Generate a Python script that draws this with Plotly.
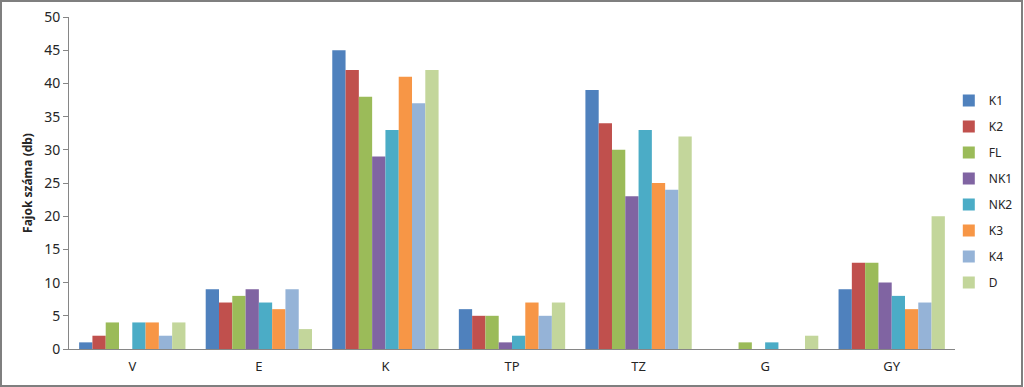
import plotly.graph_objects as go

categories = ["V", "E", "K", "TP", "TZ", "G", "GY"]
series_names = ["K1", "K2", "FL", "NK1", "NK2", "K3", "K4", "D"]
K1 = [1, 9, 45, 6, 39, 0, 9]
K2 = [2, 7, 42, 5, 34, 0, 13]
FL = [4, 8, 38, 5, 30, 1, 13]
NK1 = [0, 9, 29, 1, 23, 0, 10]
NK2 = [4, 7, 33, 2, 33, 1, 8]
K3 = [4, 6, 41, 7, 25, 0, 6]
K4 = [2, 9, 37, 5, 24, 0, 7]
D = [4, 3, 42, 7, 32, 2, 20]
series_values = [K1, K2, FL, NK1, NK2, K3, K4, D]
colors = ["#4F81BD", "#C0504D", "#9BBB59", "#8064A2", "#4BACC6", "#F79646", "#95B3D7", "#C3D69B"]
y_ticks = [0, 5, 10, 15, 20, 25, 30, 35, 40, 45, 50]

fig = go.Figure()
for name, vals, col in zip(series_names, series_values, colors):
    fig.add_trace(go.Bar(name=name, x=categories, y=vals, marker=dict(color=col, line=dict(width=0)),
                         legendgroup=name))

fig.update_layout(
    width=1024, height=387,
    margin=dict(l=69, r=69, t=17, b=38, autoexpand=False),
    paper_bgcolor="white", plot_bgcolor="white",
    barmode="group", bargap=0.16, bargroupgap=0,
    font=dict(family="Noto Sans, Liberation Sans, sans-serif", size=13, color="#262626"),
    legend=dict(x=0.993, xanchor="left", y=0.792, yanchor="top", tracegroupgap=7,
                font=dict(size=12), itemwidth=30, bgcolor="rgba(0,0,0,0)"),
    showlegend=True,
)
fig.update_xaxes(showline=True, linecolor="#868686", linewidth=1, ticks="outside", ticklen=5,
                 tickcolor="rgba(0,0,0,0)", showgrid=False, tickfont=dict(size=13), automargin=False)
fig.update_yaxes(range=[0, 50], tickvals=y_ticks, showline=True, linecolor="#868686", linewidth=1,
                 ticks="outside", ticklen=5, tickcolor="#868686", showgrid=False, zeroline=False,
                 tickfont=dict(size=14), automargin=False,
                 title=dict(text="<b>Fajok száma (db)</b>", font=dict(size=12), standoff=8))
fig.add_shape(type="rect", xref="paper", yref="paper", x0=-68/886, x1=1+67/886, y0=-37/332, y1=1+16/332,
              line=dict(color="#7F7F7F", width=2))
fig.write_html("out.html", config={"displayModeBar": False},
               post_script="document.body.style.margin='0';document.body.style.overflow='hidden';")
